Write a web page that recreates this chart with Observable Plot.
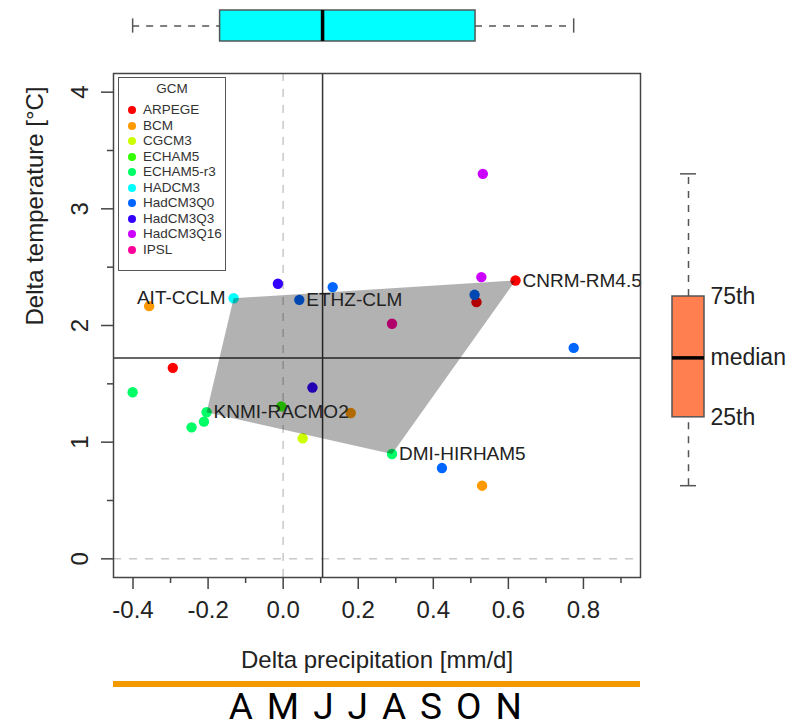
<!DOCTYPE html>
<html>
<head>
<meta charset="utf-8">
<script src="https://cdn.jsdelivr.net/npm/d3@7"></script>
<script src="https://cdn.jsdelivr.net/npm/@observablehq/plot@0.6"></script>
<style>
  body { margin: 0; background: #fff; font-family: "Liberation Sans", Arial, sans-serif; }
  #wrap { position: relative; width: 801px; height: 728px; overflow: hidden; background: #fff; }
  #wrap > div { position: absolute; }
  #legend { left: 118px; top: 77px; width: 106px; height: 192px; border: 1.5px solid #555; background: #fff; color: #333; font-size: 13.5px; }
  #legend .title { position: absolute; left: 0; right: 0; top: 3px; text-align: center; }
  #legend .item { position: absolute; left: 24px; white-space: nowrap; line-height: 16px; }
  #legend .dot { position: absolute; left: -15px; top: 4px; width: 8px; height: 8px; border-radius: 50%; }
  #season { left: 113px; width: 527px; top: 684.5px; text-align: center; font-family: Roboto, "Open Sans", sans-serif; font-size: 37px; line-height: normal; letter-spacing: 2.4px; white-space: pre; color: #000; }
  #orange { left: 113px; top: 681px; width: 527px; height: 6px; background: #F29A00; }
</style>
</head>
<body>
<div id="wrap">
  <div id="main" style="left:0;top:0"></div>
  <div id="topbox" style="left:0;top:0"></div>
  <div id="rightbox" style="left:640px;top:0"></div>
  <div id="legend"></div>
  <div id="season"></div>
  <div id="orange"></div>
</div>
<script>
// ---- data ----
const gcms = ["ARPEGE","BCM","CGCM3","ECHAM5","ECHAM5-r3","HADCM3","HadCM3Q0","HadCM3Q3","HadCM3Q16","IPSL"];
const gcmColors = ["#FF0000","#FF9900","#CCFF00","#33FF00","#00FF66","#00FFFF","#0066FF","#3300FF","#CC00FF","#FF0099"];
const runGcm = ["ARPEGE","ARPEGE","ARPEGE","BCM","BCM","BCM","CGCM3","ECHAM5",
  "ECHAM5-r3","ECHAM5-r3","ECHAM5-r3","ECHAM5-r3","ECHAM5-r3","HADCM3",
  "HadCM3Q0","HadCM3Q0","HadCM3Q0","HadCM3Q0","HadCM3Q0","HadCM3Q3","HadCM3Q3",
  "HadCM3Q16","HadCM3Q16","IPSL"];
const dPrecip = [-0.294, 0.515, 0.619, -0.357, 0.180, 0.530, 0.052, -0.005,
  -0.401, -0.204, -0.211, -0.244, 0.290, -0.132,
  0.132, 0.043, 0.510, 0.423, 0.774, -0.014, 0.078,
  0.528, 0.532, 0.290];
const dTemp = [1.637, 2.200, 2.386, 2.166, 1.250, 0.627, 1.033, 1.307,
  1.428, 1.256, 1.176, 1.127, 0.899, 2.234,
  2.329, 2.220, 2.263, 0.778, 1.808, 2.358, 1.468,
  2.415, 3.300, 2.015];
const rcmName = ["", "", "CNRM-RM4.5", "", "", "", "", "",
  "", "KNMI-RACMO2", "", "", "DMI-HIRHAM5", "AIT-CCLM",
  "", "ETHZ-CLM", "", "", "", "", "",
  "", "", ""];
const leftLabels = ["AIT-CCLM"];
const xTicks = [-0.4, -0.2, 0, 0.2, 0.4, 0.6, 0.8];
const xMinorTicks = [-0.3, -0.1, 0.1, 0.3, 0.5, 0.7, 0.9];
const yTicks = [0, 1, 2, 3, 4];
const yMinorTicks = [0.5, 1.5, 2.5, 3.5];
const boxLabels = ["75th", "median", "25th"];
const xTitle = "Delta precipitation [mm/d]";
const yTitle = "Delta temperature [°C]";
const legendTitle = "GCM";
const seasonLabel = "A M J J A S O N";

// ---- derived ----
const runs = runGcm.map((g, i) => ({gcm: g, x: dPrecip[i], y: dTemp[i], name: rcmName[i]}));
const colorOf = Object.fromEntries(gcms.map((g, i) => [g, gcmColors[i]]));
const labeled = runs.filter(d => d.name);
const hull = d3.polygonHull(labeled.map(d => [d.x, d.y])).map(([x, y]) => ({x, y}));

function fivenum(v) {
  const s = v.slice().sort(d3.ascending), n = s.length;
  const n4 = Math.floor((n + 3) / 2) / 2;
  return [1, n4, (n + 1) / 2, n + 1 - n4, n].map(i => 0.5 * (s[Math.floor(i) - 1] + s[Math.ceil(i) - 1]));
}
function boxStats(v) {
  const [mn, q1, med, q3, mx] = fivenum(v);
  const iqr = q3 - q1;
  const lo = d3.min(v.filter(d => d >= q1 - 1.5 * iqr));
  const hi = d3.max(v.filter(d => d <= q3 + 1.5 * iqr));
  return {lo, q1, med, q3, hi};
}
const xs = boxStats(dPrecip);
const ys = boxStats(dTemp);

const font = "Liberation Sans, Arial, Helvetica, sans-serif";
const ink = "#222";
const xDomain = [-0.452, 0.952];
const yDomain = [-0.16, 4.16];
const fmt = d => d.toFixed(1);

// ---- main scatter ----
const main = Plot.plot({
  width: 801, height: 700,
  marginLeft: 113, marginRight: 161, marginTop: 73, marginBottom: 123,
  x: {domain: xDomain},
  y: {domain: yDomain},
  style: {fontFamily: font, background: "transparent", color: ink},
  marks: [
    Plot.ruleX([0], {stroke: "#c8c8c8", strokeWidth: 1.5, strokeDasharray: "8,8"}),
    Plot.ruleY([0], {stroke: "#c8c8c8", strokeWidth: 1.5, strokeDasharray: "8,8"}),
    Plot.ruleX([xs.med], {stroke: "#333", strokeWidth: 1.5}),
    Plot.ruleY([ys.med], {stroke: "#333", strokeWidth: 1.5}),
    Plot.dot(runs, {x: "x", y: "y", r: 5.2, fill: d => colorOf[d.gcm], stroke: null}),
    Plot.line(hull, {x: "x", y: "y", curve: "linear-closed", fill: "#000", fillOpacity: 0.3, stroke: "none"}),
    Plot.text(labeled.filter(d => !leftLabels.includes(d.name)), {x: "x", y: "y", text: "name", textAnchor: "start", dx: 7, fontSize: 19, fill: ink}),
    Plot.text(labeled.filter(d => leftLabels.includes(d.name)), {x: "x", y: "y", text: "name", textAnchor: "end", dx: -8, fontSize: 19, fill: ink}),
    Plot.frame({stroke: "#444", strokeWidth: 1.5}),
    Plot.axisX({ticks: xTicks, tickSize: 12, tickPadding: 11, fontSize: 24, tickFormat: fmt, label: null, stroke: "#444", strokeWidth: 1.5, fill: ink}),
    Plot.axisX({ticks: xMinorTicks, tickSize: 6, tickFormat: () => "", label: null, stroke: "#444", strokeWidth: 1.5}),
    Plot.axisY({ticks: yTicks, tickSize: 12, tickFormat: () => "", label: null, stroke: "#444", strokeWidth: 1.5}),
    Plot.axisY({ticks: yMinorTicks, tickSize: 6, tickFormat: () => "", label: null, stroke: "#444", strokeWidth: 1.5}),
    Plot.text(yTicks, {y: d => d, text: d => String(d), frameAnchor: "left", dx: -26, rotate: -90, lineAnchor: "bottom", textAnchor: "middle", fontSize: 24, fill: ink}),
    Plot.text([xTitle], {frameAnchor: "bottom", dy: 90, lineAnchor: "bottom", fontSize: 24, fill: ink}),
    Plot.text([yTitle], {frameAnchor: "left", dx: -71, rotate: -90, lineAnchor: "bottom", fontSize: 24, fill: ink})
  ]
});
document.getElementById("main").appendChild(main);

// ---- top boxplot (precipitation) ----
const topBox = Plot.plot({
  width: 801, height: 50,
  marginLeft: 113, marginRight: 161, marginTop: 10, marginBottom: 9,
  x: {domain: xDomain, axis: null},
  y: {domain: [0, 1], axis: null},
  style: {background: "transparent"},
  marks: [
    Plot.ruleY([xs], {x1: "lo", x2: "q1", y: () => 0.5, stroke: "#555", strokeWidth: 1.5, strokeDasharray: "7,7"}),
    Plot.ruleY([xs], {x1: "q3", x2: "hi", y: () => 0.5, stroke: "#555", strokeWidth: 1.5, strokeDasharray: "7,7"}),
    Plot.ruleX([xs.lo, xs.hi], {y1: () => 0.27, y2: () => 0.73, stroke: "#555", strokeWidth: 1.5}),
    Plot.rect([xs], {x1: "q1", x2: "q3", fill: "#00FFFF", stroke: "#555", strokeWidth: 1.5}),
    Plot.ruleX([xs.med], {stroke: "#000", strokeWidth: 3.5})
  ]
});
document.getElementById("topbox").appendChild(topBox);

// ---- right boxplot (temperature) ----
const rightBox = Plot.plot({
  width: 161, height: 700,
  marginLeft: 32, marginRight: 97, marginTop: 73, marginBottom: 123,
  x: {domain: [0, 1], axis: null},
  y: {domain: yDomain, axis: null},
  style: {fontFamily: font, background: "transparent", overflow: "visible"},
  marks: [
    Plot.ruleX([ys], {y1: "q3", y2: "hi", x: () => 0.5, stroke: "#555", strokeWidth: 1.5, strokeDasharray: "7,7"}),
    Plot.ruleX([ys], {y1: "lo", y2: "q1", x: () => 0.5, stroke: "#555", strokeWidth: 1.5, strokeDasharray: "7,7"}),
    Plot.ruleY([ys.lo, ys.hi], {x1: () => 0.25, x2: () => 0.75, stroke: "#555", strokeWidth: 1.5}),
    Plot.rect([ys], {y1: "q1", y2: "q3", fill: "#FF7F50", stroke: "#555", strokeWidth: 1.5}),
    Plot.ruleY([ys.med], {stroke: "#000", strokeWidth: 3.5}),
    Plot.text([ys.q3, ys.med, ys.q1], {y: d => d, text: (d, i) => boxLabels[i], frameAnchor: "right", dx: 6, textAnchor: "start", fontSize: 23, fill: ink})
  ]
});
document.getElementById("rightbox").appendChild(rightBox);

// ---- legend ----
const leg = document.getElementById("legend");
const t = document.createElement("div");
t.className = "title"; t.textContent = legendTitle; leg.appendChild(t);
gcms.forEach((g, i) => {
  const it = document.createElement("div");
  it.className = "item";
  it.style.top = (24 + i * 15.55) + "px";
  const dot = document.createElement("span");
  dot.className = "dot"; dot.style.background = gcmColors[i];
  it.appendChild(dot);
  it.appendChild(document.createTextNode(g));
  leg.appendChild(it);
});

// ---- season caption ----
document.getElementById("season").textContent = seasonLabel;
</script>
</body>
</html>
